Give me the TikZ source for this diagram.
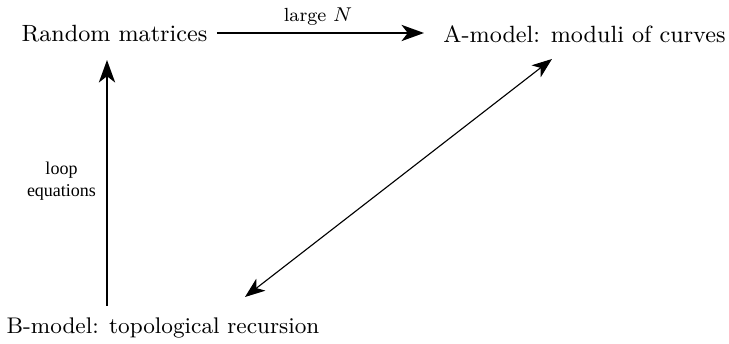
\documentclass[tikz,border=0pt]{standalone}
\usepackage{fontspec}
\newfontfamily\timesfont{Liberation Serif}
\usetikzlibrary{arrows.meta}
\begin{document}
\begin{tikzpicture}[x=0.4pt,y=-0.4pt,
  lbl/.style={inner sep=0pt,font=\fontsize{9.4pt}{11pt}\selectfont},
  conn/.style={-{Stealth[length=9pt,width=6.5pt,inset=2.5pt]}},
  dconn/.style={{Stealth[length=8pt,width=6pt,inset=2.2pt]}-{Stealth[length=8pt,width=6pt,inset=2.2pt]},line width=0.45pt}]
\useasboundingbox (0,0) rectangle (729,344);
\node[lbl] (rm) at (114.5,34) {Random matrices};
\node[lbl] (am) at (584.5,34) {A-model: moduli of curves};
\node[lbl,font=\fontsize{9.05pt}{11pt}\selectfont] (bm) at (163,328) {B-model: topological recursion};
\node[inner sep=0pt,font=\fontsize{7.6pt}{9pt}\selectfont] (ln) at (318,17) {large $N$};
\node[inner sep=0pt,font=\timesfont\fontsize{7.2pt}{8.8pt}\selectfont,align=center] (le) at (61.5,181) {loop\\equations};
\coordinate (h1) at (217,33);
\coordinate (h2) at (424,33);
\coordinate (v1) at (107,306);
\coordinate (v2) at (107,60);
\coordinate (d1) at (245,297);
\coordinate (d2) at (552,59);
\draw[conn,line width=0.6pt] (h1) -- (h2);
\draw[conn,line width=0.85pt] (v1) -- (v2);
\draw[dconn] (d1) -- (d2);
\end{tikzpicture}
\end{document}
